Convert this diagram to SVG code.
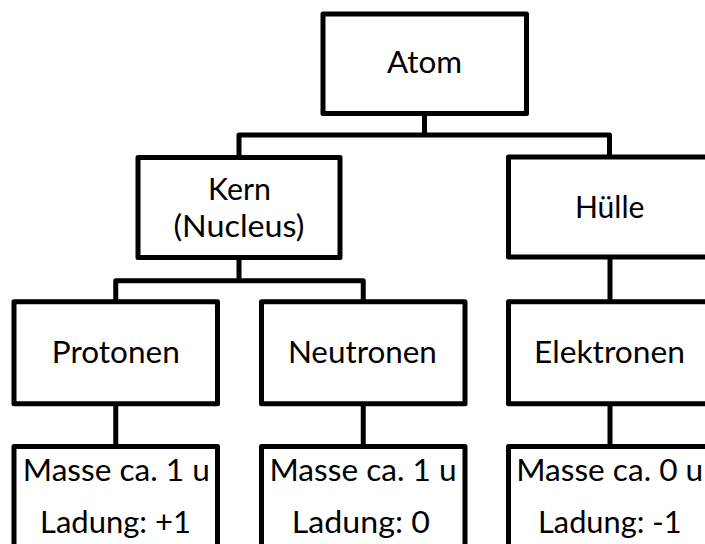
<svg xmlns="http://www.w3.org/2000/svg" width="705" height="544" viewBox="0 0 705 544">
<style>
.box{fill:#fff;stroke:#000;stroke-width:5;stroke-linejoin:round}
.con{fill:none;stroke:#000;stroke-width:5;stroke-linejoin:round}
text{font-family:Lato,"Open Sans","Liberation Sans",sans-serif;font-size:30.5px;fill:#000;text-anchor:middle}
</style>
<rect width="705" height="544" fill="#fff"/>
<g id="connectors">
<path class="con" d="M424.5,113.5 V135 M239,157 V135 H609.5 V157"/>
<path class="con" d="M239,257.5 V280.7 M115.75,301.7 V280.7 H363.25 V301.7"/>
<path class="con" d="M610,257 V301.7"/>
<path class="con" d="M115.75,403.7 V446.5 M363.25,403.7 V446.5 M610,403.7 V446.5"/>
</g>
<g id="atom"><rect class="box" x="323" y="14" width="203.5" height="99.5"/><text x="424.5" y="73" textLength="75" lengthAdjust="spacingAndGlyphs">Atom</text></g>
<g id="kern"><rect class="box" x="138" y="157.5" width="202" height="100"/><text x="239.5" y="200" textLength="63" lengthAdjust="spacingAndGlyphs">Kern</text><text x="239" y="236.7" textLength="131" lengthAdjust="spacingAndGlyphs">(Nucleus)</text></g>
<g id="huelle"><rect class="box" x="508.5" y="157" width="203" height="100"/><text x="609.7" y="218.3" textLength="69.5" lengthAdjust="spacingAndGlyphs">Hülle</text></g>
<g id="protonen"><rect class="box" x="14" y="301.7" width="203.5" height="102"/><text x="115.8" y="362.7" textLength="128" lengthAdjust="spacingAndGlyphs">Protonen</text></g>
<g id="neutronen"><rect class="box" x="261.5" y="301.7" width="203.5" height="102"/><text x="362.4" y="362.7" textLength="149" lengthAdjust="spacingAndGlyphs">Neutronen</text></g>
<g id="elektronen"><rect class="box" x="508.5" y="301.7" width="203" height="102"/><text x="609.5" y="362.7" textLength="151" lengthAdjust="spacingAndGlyphs">Elektronen</text></g>
<g id="protonen-info"><rect class="box" x="14" y="446.5" width="203.5" height="110"/><text x="116.3" y="481" textLength="187" lengthAdjust="spacingAndGlyphs">Masse ca. 1 u</text><text x="115.5" y="532.7" textLength="151" lengthAdjust="spacingAndGlyphs">Ladung: +1</text></g>
<g id="neutronen-info"><rect class="box" x="261.5" y="446.5" width="203.5" height="110"/><text x="363" y="481" textLength="187" lengthAdjust="spacingAndGlyphs">Masse ca. 1 u</text><text x="360.8" y="532.7" textLength="138" lengthAdjust="spacingAndGlyphs">Ladung: 0</text></g>
<g id="elektronen-info"><rect class="box" x="508.5" y="446.5" width="203" height="110"/><text x="609.7" y="481" textLength="187" lengthAdjust="spacingAndGlyphs">Masse ca. 0 u</text><text x="609.8" y="532.7" textLength="143.5" lengthAdjust="spacingAndGlyphs">Ladung: -1</text></g>
</svg>
